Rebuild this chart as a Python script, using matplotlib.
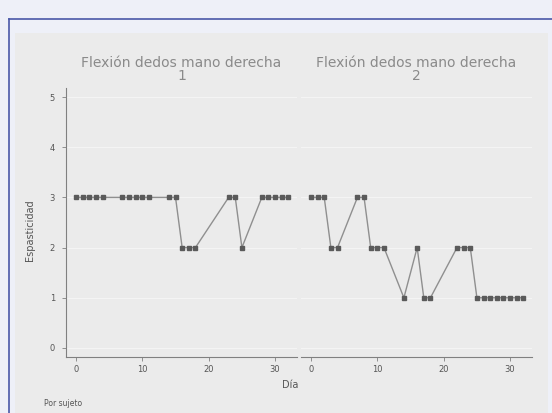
import matplotlib
matplotlib.use("Agg")
import matplotlib.pyplot as plt
from matplotlib.patches import Rectangle
from matplotlib.lines import Line2D

# ---- data ----
panel_titles = ["Flexión dedos mano derecha\n1", "Flexión dedos mano derecha\n2"]
days_1 = [0, 1, 2, 3, 4, 7, 8, 9, 10, 11, 14, 15, 16, 17, 18, 23, 24, 25, 28, 29, 30, 31, 32]
vals_1 = [3, 3, 3, 3, 3, 3, 3, 3, 3, 3, 3, 3, 2, 2, 2, 3, 3, 2, 3, 3, 3, 3, 3]
days_2 = [0, 1, 2, 3, 4, 7, 8, 9, 10, 11, 14, 16, 17, 18, 22, 23, 24, 25, 26, 27, 28, 29, 30, 31, 32]
vals_2 = [3, 3, 3, 2, 2, 3, 3, 2, 2, 2, 1, 2, 1, 1, 2, 2, 2, 1, 1, 1, 1, 1, 1, 1, 1]
y_ticks = [0, 1, 2, 3, 4, 5]
x_ticks = [0, 10, 20, 30]
y_label = "Espasticidad"
x_label = "Día"
note = "Por sujeto"

W, H = 552, 413
fig = plt.figure(figsize=(W / 100, H / 100), dpi=100)
fig.patch.set_facecolor("#eef0f8")

def fx(px):
    return px / W

def fy(py):
    return 1 - py / H

# inner gray region
fig.patches.append(Rectangle((fx(15), 0), fx(548) - fx(15), fy(33), transform=fig.transFigure,
                             facecolor="#ebebeb", edgecolor="none", zorder=-5))
# blue frame lines
fig.lines.append(Line2D([fx(9), fx(9)], [0, fy(19)], transform=fig.transFigure, color="#4a58a8", lw=1.2, zorder=-4))
fig.lines.append(Line2D([fx(9), 1], [fy(19), fy(19)], transform=fig.transFigure, color="#4a58a8", lw=1.2, zorder=-4))

top, bot = 88, 357
panels = [(66, 297), (301, 532)]
data = [(days_1, vals_1), (days_2, vals_2)]
axes = []
for i, ((l, r), (d, v)) in enumerate(zip(panels, data)):
    ax = fig.add_axes([fx(l), fy(bot), fx(r) - fx(l), fy(top) - fy(bot)])
    ax.set_zorder(2)
    ax.set_facecolor("#ebebeb")
    ax.set_xlim(-1.5, 33.3)
    ax.set_ylim(-0.18, 5.18)
    for yt in y_ticks:
        ax.axhline(yt, color="#f4f4f4", lw=0.8, zorder=1)
    ax.plot(d, v, color="#8f8f8f", lw=1.0, zorder=2)
    ax.plot(d, v, linestyle="none", marker="s", ms=2.6, color="#5a5a5a", mec="#5a5a5a", zorder=3)
    for s in ["top", "right"]:
        ax.spines[s].set_visible(False)
    ax.spines["bottom"].set_color("#808080")
    ax.set_xticks(x_ticks)
    ax.set_xticklabels([str(t) for t in x_ticks])
    ax.tick_params(axis="x", length=3, width=0.6, color="#808080", labelsize=6, labelcolor="#555555", pad=3)
    if i == 0:
        ax.spines["left"].set_color("#808080")
        ax.set_yticks(y_ticks)
        ax.set_yticklabels([str(t) for t in y_ticks])
        ax.tick_params(axis="y", length=3, width=0.6, color="#808080", labelsize=6, labelcolor="#555555", pad=5)
        ax.set_ylabel(y_label, fontsize=7, color="#555555", labelpad=8)
        ax.yaxis.set_label_coords(-0.135, 0.47)
    else:
        ax.spines["left"].set_visible(False)
        ax.set_yticks([])
    ax.set_title(panel_titles[i], fontsize=10, color="#8a8a8a", pad=6, linespacing=0.85)
    axes.append(ax)

fig.text(fx(290), fy(385), x_label, fontsize=7, color="#555555", ha="center", va="center")
fig.text(fx(44), fy(404), note, fontsize=5.5, color="#555555", ha="left", va="center")

fig.savefig("out.png", dpi=100, facecolor=fig.get_facecolor())
